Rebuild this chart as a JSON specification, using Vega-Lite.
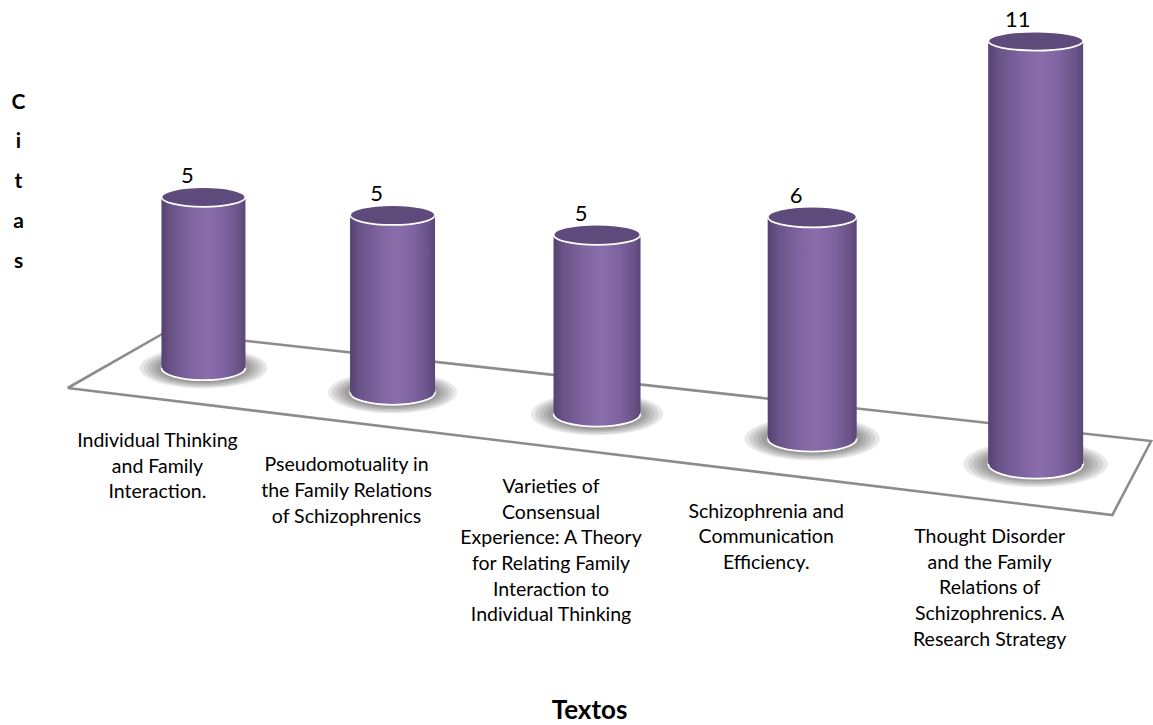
{
  "$schema": "https://vega.github.io/schema/vega-lite/v6.json",
  "autosize": "none",
  "width": 1128,
  "height": 680,
  "padding": {"left": 25, "top": 0, "right": 0, "bottom": 45},
  "background": "white",
  "config": {
    "view": {"stroke": null},
    "point": {
      "filled": true,
      "shape": "M-1,0A1,0.29 0 1,0 1,0A1,0.29 0 1,0 -1,0Z",
      "opacity": 1,
      "stroke": "white",
      "strokeWidth": 1.8,
      "fill": {
        "gradient": "linear", "x1": 0, "y1": 0, "x2": 1, "y2": 0,
        "stops": [
          {"offset": 0, "color": "#564271"},
          {"offset": 0.12, "color": "#6a5489"},
          {"offset": 0.35, "color": "#7f64a0"},
          {"offset": 0.55, "color": "#8a6eab"},
          {"offset": 0.75, "color": "#7d63a0"},
          {"offset": 0.92, "color": "#6a5388"},
          {"offset": 1, "color": "#5a4676"}
        ]
      }
    },
    "bar": {
      "fill": {
        "gradient": "linear", "x1": 0, "y1": 0, "x2": 1, "y2": 0,
        "stops": [
          {"offset": 0, "color": "#564271"},
          {"offset": 0.12, "color": "#6a5489"},
          {"offset": 0.35, "color": "#7f64a0"},
          {"offset": 0.55, "color": "#8a6eab"},
          {"offset": 0.75, "color": "#7d63a0"},
          {"offset": 0.92, "color": "#6a5388"},
          {"offset": 1, "color": "#5a4676"}
        ]
      }
    },
    "text": {"font": "Lato", "color": "#000000", "align": "center", "baseline": "alphabetic"}
  },
  "datasets": {
    "textos": [
      {"n": 1, "texto": "Individual Thinking\nand Family\nInteraction.", "valor": 5},
      {"n": 2, "texto": "Pseudomotuality in\nthe Family Relations\nof Schizophrenics", "valor": 5},
      {"n": 3, "texto": "Varieties of\nConsensual\nExperience: A Theory\nfor Relating Family\nInteraction to\nIndividual Thinking", "valor": 5},
      {"n": 4, "texto": "Schizophrenia and\nCommunication\nEfficiency.", "valor": 6},
      {"n": 5, "texto": "Thought Disorder\nand the Family\nRelations of\nSchizophrenics. A\nResearch Strategy", "valor": 11}
    ],
    "piso": [
      {"k": 1, "n": 0.1635, "valor": -0.585},
      {"k": 2, "n": 0.785, "valor": 1.053},
      {"k": 3, "n": 5.505, "valor": -2.135},
      {"k": 4, "n": 5.336, "valor": -4.298},
      {"k": 5, "n": 0.1635, "valor": -0.585}
    ]
  },
  "data": {"name": "textos"},
  "encoding": {
    "x": {
      "field": "n",
      "type": "quantitative",
      "scale": {"type": "pow", "exponent": 1.15, "domain": [-0.1562, 5.4912], "zero": false, "nice": false},
      "axis": {
        "title": "Textos",
        "domain": false, "ticks": false, "labels": false, "grid": false,
        "titleX": 564, "titleY": 38,
        "titleAlign": "center", "titleBaseline": "alphabetic",
        "titleFont": "Lato", "titleFontSize": 26, "titleFontWeight": "bold", "titleColor": "#000000"
      }
    }
  },
  "layer": [
    {
      "data": {"name": "piso"},
      "mark": {"type": "line", "stroke": "#8c8c8c", "strokeWidth": 2.6, "strokeJoin": "miter"},
      "encoding": {
        "y": {
          "field": "valor", "type": "quantitative",
          "scale": {"domain": [-9.123, 10.76], "zero": true, "nice": false},
          "axis": {
            "orient": "left",
            "title": ["C", "i", "t", "a", "s"],
            "domain": false, "ticks": false, "labels": false, "grid": false,
            "titleAngle": 0, "titleX": -7, "titleY": 108,
            "titleAlign": "center", "titleBaseline": "alphabetic", "titleLineHeight": 39.75,
            "titleFont": "Lato", "titleFontSize": 21, "titleFontWeight": "bold", "titleColor": "#000000"
          }
        },
        "order": {"field": "k", "type": "quantitative"}
      }
    },
    {
      "transform": [{"filter": "datum.n == 1"}],
      "encoding": {"y": {"field": "valor", "type": "quantitative", "stack": null, "scale": {"domain": [-9.123, 10.76], "zero": true, "nice": false}, "axis": null}},
      "layer": [
        {"mark": {"type": "point", "shape": "M-1,0A1,0.32 0 1,0 1,0A1,0.32 0 1,0 -1,0Z", "fill": "#1e1e1e", "opacity": 0.1, "strokeWidth": 0, "size": 16302}, "encoding": {"y": {"datum": 0}}},
        {"mark": {"type": "point", "shape": "M-1,0A1,0.32 0 1,0 1,0A1,0.32 0 1,0 -1,0Z", "fill": "#1e1e1e", "opacity": 0.1, "strokeWidth": 0, "size": 14229}, "encoding": {"y": {"datum": 0}}},
        {"mark": {"type": "point", "shape": "M-1,0A1,0.32 0 1,0 1,0A1,0.32 0 1,0 -1,0Z", "fill": "#1e1e1e", "opacity": 0.1, "strokeWidth": 0, "size": 12294}, "encoding": {"y": {"datum": 0}}},
        {"mark": {"type": "point", "shape": "M-1,0A1,0.32 0 1,0 1,0A1,0.32 0 1,0 -1,0Z", "fill": "#1e1e1e", "opacity": 0.1, "strokeWidth": 0, "size": 10502}, "encoding": {"y": {"datum": 0}}},
        {"mark": {"type": "point", "shape": "M-1,0A1,0.32 0 1,0 1,0A1,0.32 0 1,0 -1,0Z", "fill": "#1e1e1e", "opacity": 0.1, "strokeWidth": 0, "size": 9010}, "encoding": {"y": {"datum": 0}}},
        {"mark": {"type": "point", "shape": "M-1,0A1,0.32 0 1,0 1,0A1,0.32 0 1,0 -1,0Z", "fill": "#1e1e1e", "opacity": 0.1, "strokeWidth": 0, "size": 7631}, "encoding": {"y": {"datum": 0}}},
        {"mark": {"type": "point", "size": 7056}, "encoding": {"y": {"datum": 0}}},
        {"mark": {"type": "bar", "orient": "vertical", "size": 84}},
        {"mark": {"type": "point", "shape": "M-1,0A1,0.235 0 1,0 1,0A1,0.235 0 1,0 -1,0Z", "fill": "#5f4a7c", "size": 7056}},
        {"mark": {"type": "text", "fontSize": 22, "dx": -16, "dy": -14}, "encoding": {"text": {"field": "valor", "type": "quantitative"}}},
        {"mark": {"type": "text", "fontSize": 19.5, "lineBreak": "\n", "lineHeight": 25.7, "dx": -46, "dy": 79}, "encoding": {"y": {"datum": 0}, "text": {"field": "texto", "type": "nominal"}}}
      ]
    },
    {
      "transform": [{"filter": "datum.n == 2"}],
      "encoding": {"y": {"field": "valor", "type": "quantitative", "stack": null, "scale": {"domain": [-8.099, 11.056], "zero": true, "nice": false}, "axis": null}},
      "layer": [
        {"mark": {"type": "point", "shape": "M-1,0A1,0.32 0 1,0 1,0A1,0.32 0 1,0 -1,0Z", "fill": "#1e1e1e", "opacity": 0.1, "strokeWidth": 0, "size": 16693}, "encoding": {"y": {"datum": 0}}},
        {"mark": {"type": "point", "shape": "M-1,0A1,0.32 0 1,0 1,0A1,0.32 0 1,0 -1,0Z", "fill": "#1e1e1e", "opacity": 0.1, "strokeWidth": 0, "size": 14569}, "encoding": {"y": {"datum": 0}}},
        {"mark": {"type": "point", "shape": "M-1,0A1,0.32 0 1,0 1,0A1,0.32 0 1,0 -1,0Z", "fill": "#1e1e1e", "opacity": 0.1, "strokeWidth": 0, "size": 12589}, "encoding": {"y": {"datum": 0}}},
        {"mark": {"type": "point", "shape": "M-1,0A1,0.32 0 1,0 1,0A1,0.32 0 1,0 -1,0Z", "fill": "#1e1e1e", "opacity": 0.1, "strokeWidth": 0, "size": 10754}, "encoding": {"y": {"datum": 0}}},
        {"mark": {"type": "point", "shape": "M-1,0A1,0.32 0 1,0 1,0A1,0.32 0 1,0 -1,0Z", "fill": "#1e1e1e", "opacity": 0.1, "strokeWidth": 0, "size": 9226}, "encoding": {"y": {"datum": 0}}},
        {"mark": {"type": "point", "shape": "M-1,0A1,0.32 0 1,0 1,0A1,0.32 0 1,0 -1,0Z", "fill": "#1e1e1e", "opacity": 0.1, "strokeWidth": 0, "size": 7815}, "encoding": {"y": {"datum": 0}}},
        {"mark": {"type": "point", "size": 7225}, "encoding": {"y": {"datum": 0}}},
        {"mark": {"type": "bar", "orient": "vertical", "size": 85}},
        {"mark": {"type": "point", "shape": "M-1,0A1,0.235 0 1,0 1,0A1,0.235 0 1,0 -1,0Z", "fill": "#5f4a7c", "size": 7225}},
        {"mark": {"type": "text", "fontSize": 22, "dx": -16, "dy": -14}, "encoding": {"text": {"field": "valor", "type": "quantitative"}}},
        {"mark": {"type": "text", "fontSize": 19.5, "lineBreak": "\n", "lineHeight": 25.7, "dx": -46, "dy": 79}, "encoding": {"y": {"datum": 0}, "text": {"field": "texto", "type": "nominal"}}}
      ]
    },
    {
      "transform": [{"filter": "datum.n == 3"}],
      "encoding": {"y": {"field": "valor", "type": "quantitative", "stack": null, "scale": {"domain": [-7.418, 11.545], "zero": true, "nice": false}, "axis": null}},
      "layer": [
        {"mark": {"type": "point", "shape": "M-1,0A1,0.32 0 1,0 1,0A1,0.32 0 1,0 -1,0Z", "fill": "#1e1e1e", "opacity": 0.1, "strokeWidth": 0, "size": 17487}, "encoding": {"y": {"datum": 0}}},
        {"mark": {"type": "point", "shape": "M-1,0A1,0.32 0 1,0 1,0A1,0.32 0 1,0 -1,0Z", "fill": "#1e1e1e", "opacity": 0.1, "strokeWidth": 0, "size": 15262}, "encoding": {"y": {"datum": 0}}},
        {"mark": {"type": "point", "shape": "M-1,0A1,0.32 0 1,0 1,0A1,0.32 0 1,0 -1,0Z", "fill": "#1e1e1e", "opacity": 0.1, "strokeWidth": 0, "size": 13188}, "encoding": {"y": {"datum": 0}}},
        {"mark": {"type": "point", "shape": "M-1,0A1,0.32 0 1,0 1,0A1,0.32 0 1,0 -1,0Z", "fill": "#1e1e1e", "opacity": 0.1, "strokeWidth": 0, "size": 11266}, "encoding": {"y": {"datum": 0}}},
        {"mark": {"type": "point", "shape": "M-1,0A1,0.32 0 1,0 1,0A1,0.32 0 1,0 -1,0Z", "fill": "#1e1e1e", "opacity": 0.1, "strokeWidth": 0, "size": 9665}, "encoding": {"y": {"datum": 0}}},
        {"mark": {"type": "point", "shape": "M-1,0A1,0.32 0 1,0 1,0A1,0.32 0 1,0 -1,0Z", "fill": "#1e1e1e", "opacity": 0.1, "strokeWidth": 0, "size": 8187}, "encoding": {"y": {"datum": 0}}},
        {"mark": {"type": "point", "size": 7569}, "encoding": {"y": {"datum": 0}}},
        {"mark": {"type": "bar", "orient": "vertical", "size": 87}},
        {"mark": {"type": "point", "shape": "M-1,0A1,0.235 0 1,0 1,0A1,0.235 0 1,0 -1,0Z", "fill": "#5f4a7c", "size": 7569}},
        {"mark": {"type": "text", "fontSize": 22, "dx": -16, "dy": -14}, "encoding": {"text": {"field": "valor", "type": "quantitative"}}},
        {"mark": {"type": "text", "fontSize": 19.5, "lineBreak": "\n", "lineHeight": 25.7, "dx": -46, "dy": 79}, "encoding": {"y": {"datum": 0}, "text": {"field": "texto", "type": "nominal"}}}
      ]
    },
    {
      "transform": [{"filter": "datum.n == 4"}],
      "encoding": {"y": {"field": "valor", "type": "quantitative", "stack": null, "scale": {"domain": [-6.53, 11.873], "zero": true, "nice": false}, "axis": null}},
      "layer": [
        {"mark": {"type": "point", "shape": "M-1,0A1,0.32 0 1,0 1,0A1,0.32 0 1,0 -1,0Z", "fill": "#1e1e1e", "opacity": 0.1, "strokeWidth": 0, "size": 18301}, "encoding": {"y": {"datum": 0}}},
        {"mark": {"type": "point", "shape": "M-1,0A1,0.32 0 1,0 1,0A1,0.32 0 1,0 -1,0Z", "fill": "#1e1e1e", "opacity": 0.1, "strokeWidth": 0, "size": 15972}, "encoding": {"y": {"datum": 0}}},
        {"mark": {"type": "point", "shape": "M-1,0A1,0.32 0 1,0 1,0A1,0.32 0 1,0 -1,0Z", "fill": "#1e1e1e", "opacity": 0.1, "strokeWidth": 0, "size": 13801}, "encoding": {"y": {"datum": 0}}},
        {"mark": {"type": "point", "shape": "M-1,0A1,0.32 0 1,0 1,0A1,0.32 0 1,0 -1,0Z", "fill": "#1e1e1e", "opacity": 0.1, "strokeWidth": 0, "size": 11790}, "encoding": {"y": {"datum": 0}}},
        {"mark": {"type": "point", "shape": "M-1,0A1,0.32 0 1,0 1,0A1,0.32 0 1,0 -1,0Z", "fill": "#1e1e1e", "opacity": 0.1, "strokeWidth": 0, "size": 10114}, "encoding": {"y": {"datum": 0}}},
        {"mark": {"type": "point", "shape": "M-1,0A1,0.32 0 1,0 1,0A1,0.32 0 1,0 -1,0Z", "fill": "#1e1e1e", "opacity": 0.1, "strokeWidth": 0, "size": 8567}, "encoding": {"y": {"datum": 0}}},
        {"mark": {"type": "point", "size": 7921}, "encoding": {"y": {"datum": 0}}},
        {"mark": {"type": "bar", "orient": "vertical", "size": 89}},
        {"mark": {"type": "point", "shape": "M-1,0A1,0.235 0 1,0 1,0A1,0.235 0 1,0 -1,0Z", "fill": "#5f4a7c", "size": 7921}},
        {"mark": {"type": "text", "fontSize": 22, "dx": -16, "dy": -14}, "encoding": {"text": {"field": "valor", "type": "quantitative"}}},
        {"mark": {"type": "text", "fontSize": 19.5, "lineBreak": "\n", "lineHeight": 25.7, "dx": -46, "dy": 79}, "encoding": {"y": {"datum": 0}, "text": {"field": "texto", "type": "nominal"}}}
      ]
    },
    {
      "transform": [{"filter": "datum.n == 5"}],
      "encoding": {"y": {"field": "valor", "type": "quantitative", "stack": null, "scale": {"domain": [-5.618, 12.068], "zero": true, "nice": false}, "axis": null}},
      "layer": [
        {"mark": {"type": "point", "shape": "M-1,0A1,0.32 0 1,0 1,0A1,0.32 0 1,0 -1,0Z", "fill": "#1e1e1e", "opacity": 0.1, "strokeWidth": 0, "size": 20851}, "encoding": {"y": {"datum": 0}}},
        {"mark": {"type": "point", "shape": "M-1,0A1,0.32 0 1,0 1,0A1,0.32 0 1,0 -1,0Z", "fill": "#1e1e1e", "opacity": 0.1, "strokeWidth": 0, "size": 18198}, "encoding": {"y": {"datum": 0}}},
        {"mark": {"type": "point", "shape": "M-1,0A1,0.32 0 1,0 1,0A1,0.32 0 1,0 -1,0Z", "fill": "#1e1e1e", "opacity": 0.1, "strokeWidth": 0, "size": 15725}, "encoding": {"y": {"datum": 0}}},
        {"mark": {"type": "point", "shape": "M-1,0A1,0.32 0 1,0 1,0A1,0.32 0 1,0 -1,0Z", "fill": "#1e1e1e", "opacity": 0.1, "strokeWidth": 0, "size": 13433}, "encoding": {"y": {"datum": 0}}},
        {"mark": {"type": "point", "shape": "M-1,0A1,0.32 0 1,0 1,0A1,0.32 0 1,0 -1,0Z", "fill": "#1e1e1e", "opacity": 0.1, "strokeWidth": 0, "size": 11524}, "encoding": {"y": {"datum": 0}}},
        {"mark": {"type": "point", "shape": "M-1,0A1,0.32 0 1,0 1,0A1,0.32 0 1,0 -1,0Z", "fill": "#1e1e1e", "opacity": 0.1, "strokeWidth": 0, "size": 9761}, "encoding": {"y": {"datum": 0}}},
        {"mark": {"type": "point", "shape": "M-1,0A1,0.31 0 1,0 1,0A1,0.31 0 1,0 -1,0Z", "size": 9025}, "encoding": {"y": {"datum": 0}}},
        {"mark": {"type": "bar", "orient": "vertical", "size": 95}},
        {"mark": {"type": "point", "shape": "M-1,0A1,0.2 0 1,0 1,0A1,0.2 0 1,0 -1,0Z", "fill": "#5f4a7c", "size": 9025}},
        {"mark": {"type": "text", "fontSize": 22, "dx": -18, "dy": -14}, "encoding": {"text": {"field": "valor", "type": "quantitative"}}},
        {"mark": {"type": "text", "fontSize": 19.5, "lineBreak": "\n", "lineHeight": 25.7, "dx": -46, "dy": 79}, "encoding": {"y": {"datum": 0}, "text": {"field": "texto", "type": "nominal"}}}
      ]
    }
  ],
  "resolve": {"scale": {"y": "independent"}, "axis": {"y": "independent"}}
}
